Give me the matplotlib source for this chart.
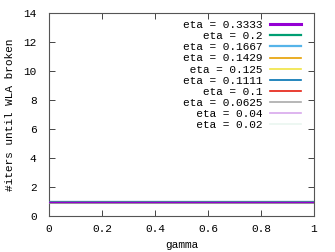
import matplotlib
matplotlib.use("Agg")
import matplotlib.pyplot as plt

gamma = [0.0, 0.1, 0.2, 0.3, 0.4, 0.5, 0.6, 0.7, 0.8, 0.9, 1.0]
etas = ["0.3333", "0.2", "0.1667", "0.1429", "0.125", "0.1111", "0.1", "0.0625", "0.04", "0.02"]
iters = [
    [1, 1, 1, 1, 1, 1, 1, 1, 1, 1, 1],  # eta = 0.3333
    [1, 1, 1, 1, 1, 1, 1, 1, 1, 1, 1],  # eta = 0.2
    [1, 1, 1, 1, 1, 1, 1, 1, 1, 1, 1],  # eta = 0.1667
    [1, 1, 1, 1, 1, 1, 1, 1, 1, 1, 1],  # eta = 0.1429
    [1, 1, 1, 1, 1, 1, 1, 1, 1, 1, 1],  # eta = 0.125
    [1, 1, 1, 1, 1, 1, 1, 1, 1, 1, 1],  # eta = 0.1111
    [1, 1, 1, 1, 1, 1, 1, 1, 1, 1, 1],  # eta = 0.1
    [1, 1, 1, 1, 1, 1, 1, 1, 1, 1, 1],  # eta = 0.0625
    [1, 1, 1, 1, 1, 1, 1, 1, 1, 1, 1],  # eta = 0.04
    [1, 1, 1, 1, 1, 1, 1, 1, 1, 1, 1],  # eta = 0.02
]
colors = ["#9400d3", "#009e73", "#56b4e9", "#e69f00", "#f0e442",
          "#0072b2", "#e51e10", "#aaaaaa", "#d8a8ec", "#eaf6f0"]
leg_widths = [2.2, 1.6, 1.6, 1.2, 1.2, 1.2, 1.2, 1.2, 1.2, 1.2]

plt.rcParams['font.family'] = ['Liberation Mono', 'DejaVu Sans Mono']
plt.rcParams['font.size'] = 8

fig = plt.figure(figsize=(3.35, 2.52), dpi=100)
ax = fig.add_axes([49/335, 36/252, 265/335, 203/252])

labels = ["eta = " + e for e in etas]
width = max(len(l) for l in labels)
n = len(labels)
for i, (y, c, lab) in enumerate(zip(iters, colors, labels)):
    # first series ends up on top, like the original
    ax.plot(gamma, y, color=c, lw=1.6 if i == 5 else 1.0,
            label=lab.rjust(width), zorder=2 + n - i)

ax.set_xlim(0, 1)
ax.set_ylim(0, 14)
ax.set_xticks([0, 0.2, 0.4, 0.6, 0.8, 1])
ax.set_xticklabels(["0", "0.2", "0.4", "0.6", "0.8", "1"])
ax.set_yticks(range(0, 15, 2))
ax.tick_params(direction='in', top=True, right=True, length=4, width=0.7, color='#444444')
ax.tick_params(axis='y', pad=9, labelsize=8)
ax.tick_params(axis='x', pad=6, labelsize=8)
for s in ax.spines.values():
    s.set_color('#555555')
    s.set_linewidth(0.8)

ax.set_xlabel("gamma", labelpad=4)
ax.set_ylabel("#iters until WLA broken", labelpad=6)

leg = ax.legend(loc='upper right', bbox_to_anchor=(0.951, 0.965), frameon=False,
                borderpad=0, borderaxespad=0, labelspacing=0.1, handlelength=2.8,
                handletextpad=0.7, markerfirst=False, fontsize=8)
for h, lw in zip(leg.get_lines(), leg_widths):
    h.set_linewidth(lw)

fig.savefig("out.png", dpi=100)
